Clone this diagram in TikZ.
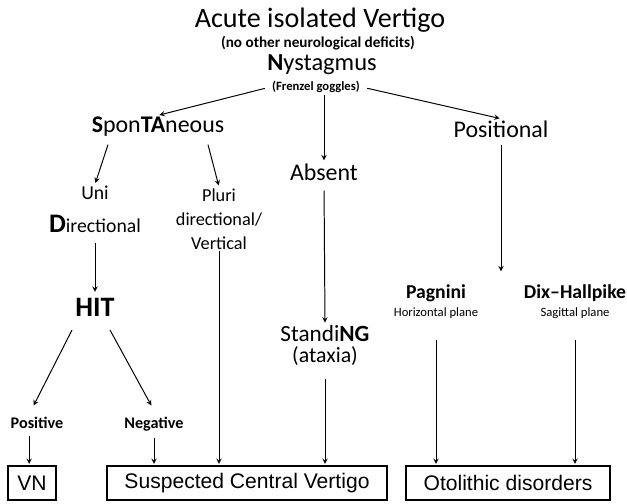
\documentclass[tikz,border=0pt]{standalone}
\usepackage{fontspec}
\setmainfont{Carlito}
\newfontfamily\boxfont{Liberation Sans}
\usetikzlibrary{calc,positioning}

\begin{document}
\begin{tikzpicture}[->,shorten >=1pt,x=0.25mm,y=-0.25mm,line width=0.7pt,>=stealth,
    every node/.style={inner sep=1pt,align=center},
    big/.style={font=\fontsize{20}{22}\selectfont},
    mid/.style={font=\fontsize{17}{19}\selectfont},
    lbl/.style={font=\fontsize{13}{17}\selectfont},
    note/.style={font=\bfseries\fontsize{10.8}{12}\selectfont},
    small/.style={font=\bfseries\fontsize{11.5}{13}\selectfont,anchor=base},
    tiny/.style={font=\fontsize{9}{10}\selectfont},
    res/.style={draw,-,line width=0.9pt,minimum height=8.5mm,font=\boxfont\fontsize{15}{17}\selectfont}]
  \useasboundingbox (0,0) rectangle (627,503);
  % top
  \node[big] (acute) at (320,20) {Acute isolated Vertigo};
  \node[note] (nodef) at (318,43) {(no other neurological deficits)};
  \node[font=\fontsize{17.4}{19}\selectfont] (nys) at (322,65) {\textbf{N}ystagmus};
  \node[font=\bfseries\fontsize{9}{10}\selectfont] (frz) at (316,87) {(Frenzel goggles)};
  % second level
  \node[mid] (spon) at (158,127) {\textbf{S}pon\textbf{TA}neous};
  \node[mid] (absent) at (324,172) {Absent};
  \node[mid] (posit) at (501,129) {Positional};
  \node[lbl,font=\fontsize{14}{16}\selectfont] (uni) at (95,193) {Uni};
  \node[lbl,font=\fontsize{14}{16}\selectfont] (dir) at (95,224) {{\bfseries\fontsize{19}{20}\selectfont D}irectional};
  \node[lbl] (pluri) at (219,219) {Pluri\\directional/\\Vertical};
  \node[font=\bfseries\fontsize{20}{22}\selectfont] (hit) at (95,307) {HIT};
  \node[small] (pos) at (37,428) {Positive};
  \node[small] (neg) at (154,428) {Negative};
  \node[lbl,font=\fontsize{16.5}{18}\selectfont] (stand) at (325,334) {Standi\textbf{NG}};
  \node[lbl,font=\fontsize{15.5}{17}\selectfont] (atax) at (325,356) {(ataxia)};
  \node[lbl,font=\bfseries\fontsize{14}{16}\selectfont] (pag) at (436,293) {Pagnini};
  \node[tiny] (hor) at (436,313) {Horizontal plane};
  \node[lbl,font=\bfseries\fontsize{14}{16}\selectfont] (dix) at (575,293) {Dix--Hallpike};
  \node[tiny] (sag) at (575,313) {Sagittal plane};
  % outcomes
  \node[res,minimum width=12mm] (vn) at (32,483) {VN};
  \node[res,minimum width=70mm] (scv) at (247,483) {Suspected Central Vertigo};
  \node[res,minimum width=51mm] (oto) at (508,483) {Otolithic disorders};
  % arrows
  \draw[shorten <=4pt] (frz.west) -- (spon.north);
  \draw (absent.north |- frz.south) -- (absent.north);
  \draw[shorten <=4pt] (frz.east) -- (posit.north);
  \draw ($(spon.south)+(-50,6)$) -- (uni.north);
  \draw ($(spon.south)+(50,6)$) -- (pluri.north);
  \draw[shorten <=6pt,shorten >=3pt] (dir.south) -- (hit.north);
  \draw[shorten >=1pt] (pluri.south) -- (pluri.south |- scv.north);
  \draw ($(hit.south)+(-23,12)$) -- ($(pos.north)+(-4,-8)$);
  \draw ($(hit.south)+(15,12)$) -- ($(neg.north)+(-2,-8)$);
  \draw[shorten <=4pt] ([xshift=-8\pgflinewidth]pos.south) -- ([xshift=-8\pgflinewidth]pos.south |- vn.north);
  \draw[shorten <=4pt] (neg.south) -- (neg.south |- scv.north);
  \draw[shorten <=6pt] (absent.south) -- (stand.north);
  \draw[shorten <=8pt] (atax.south) -- (atax.south |- scv.north);
  \draw[shorten <=4pt,shorten >=8pt] (posit.south) -- (posit.south |- pag.north);
  \draw[shorten <=14pt] (hor.south) -- (hor.south |- oto.north);
  \draw[shorten <=14pt] (sag.south) -- (sag.south |- oto.north);
\end{tikzpicture}
\end{document}
